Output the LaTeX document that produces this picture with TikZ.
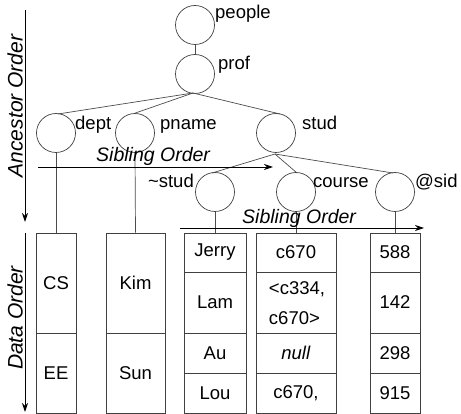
\documentclass[tikz,border=0pt]{standalone}
\usepackage{fontspec}
\setmainfont{Liberation Sans}
\usetikzlibrary{arrows.meta}
\begin{document}
\begin{tikzpicture}[x=1pt,y=-1pt,
  every node/.style={font=\fontsize{18.5}{21}\selectfont, inner sep=0pt},
  elem/.style={draw=black!75, circle, minimum size=39pt, line width=0.7pt},
  lbl/.style={anchor=base west},
  edge/.style={draw=black!70, line width=0.7pt},
  ordarrow/.style={draw=black, line width=0.9pt, -{Stealth[length=9pt,width=6pt]}},
  ordlbl/.style={font=\fontsize{21}{24}\selectfont\itshape},
  sibl/.style={font=\fontsize{19.5}{22}\selectfont\itshape, anchor=base west},
  cell/.style={draw=black!75, line width=0.7pt, rectangle, minimum width=#1, align=left},
]
\useasboundingbox (0,0) rectangle (461,414);

% tree nodes
\node[elem] (people) at (195,25) {};
\node[elem] (prof) at (195,74) {};
\node[elem] (dept) at (56,133) {};
\node[elem] (pname) at (135,133) {};
\node[elem] (stud) at (276,133) {};
\node[elem] (nstud) at (215,192) {};
\node[elem] (course) at (296,192) {};
\node[elem] (sid) at (395,192) {};

\node[lbl] (lpeople) at (215,19) {people};
\node[lbl] (lprof) at (218,70) {prof};
\node[lbl] (ldept) at (75,130) {dept};
\node[lbl] (lpname) at (160,130) {pname};
\node[lbl] (lstud) at (302,130) {stud};
\node[anchor=base east] (lnstud) at (194,188) {\textasciitilde stud};
\node[lbl] (lcourse) at (313,188) {course};
\node[lbl] (lsid) at (415,188) {@sid};

% tree edges
\coordinate (pj) at (193,93);
\coordinate (sj) at (275,154);
\draw[edge] (people.south) -- (prof.north);
\draw[edge] (pj) -- (58,114);
\draw[edge] (pj) -- (pname.north);
\draw[edge] (pj) -- (280,114);
\draw[edge] (sj) -- (212,173);
\draw[edge] (sj) -- (297,173);
\draw[edge] (sj) -- (393,173);

% data cells
\node[cell=40pt, minimum height=100pt] (cs) at (56,283) {CS};
\node[cell=40pt, minimum height=80pt] (ee) at (56,373) {EE};
\node[cell=59pt, minimum height=100pt] (kim) at (135.5,283) {Kim};
\node[cell=59pt, minimum height=80pt] (sun) at (135.5,373) {Sun};

\node[cell=62pt, minimum height=39pt] (jerry) at (215,252.5) {Jerry};
\node[cell=62pt, minimum height=61pt] (lam) at (215,302.5) {Lam};
\node[cell=62pt, minimum height=40pt] (au) at (215,353) {Au};
\node[cell=62pt, minimum height=40pt] (lou) at (215,393) {Lou};

\node[cell=80pt, minimum height=39pt] (c1) at (296,252.5) {c670};
\node[cell=80pt, minimum height=61pt] (c2) at (296,302.5) {};
\node[align=left, font=\fontsize{18.5}{30}\selectfont] (c2t) at (297,303) {<c334,\\c670>};
\node[cell=80pt, minimum height=40pt] (c3) at (296,353) {\textit{null}};
\node[cell=80pt, minimum height=40pt] (c4) at (296,393) {c670,};

\node[cell=50pt, minimum height=39pt] (s1) at (395,252.5) {588};
\node[cell=50pt, minimum height=61pt] (s2) at (395,302.5) {142};
\node[cell=50pt, minimum height=40pt] (s3) at (395,353) {298};
\node[cell=50pt, minimum height=40pt] (s4) at (395,393) {915};

% stems
\draw[edge] (dept.south) -- (cs.north);
\draw[edge] (pname.south) -- (kim.north);
\draw[edge] (nstud.south) -- (jerry.north);
\draw[edge] (course.south) -- (c1.north);
\draw[edge] (sid.south) -- (s1.north);

% order arrows
\coordinate (a1) at (25,10);
\coordinate (a2) at (25,222);
\draw[ordarrow] (a1) -- (a2);
\node[ordlbl, rotate=90] (anc) at (15,106) {Ancestor Order};
\coordinate (d1) at (25,233);
\coordinate (d2) at (25,412);
\draw[ordarrow] (d1) -- (d2);
\node[ordlbl, rotate=90] (dat) at (15,318) {Data Order};

\coordinate (s1a) at (38,167);
\coordinate (s1b) at (273,167);
\draw[ordarrow] (s1a) -- (s1b);
\node[sibl] (sib1) at (96,162) {Sibling Order};
\coordinate (s2a) at (180,228);
\coordinate (s2b) at (424,228);
\draw[ordarrow] (s2a) -- (s2b);
\node[sibl] (sib2) at (242,224) {Sibling Order};
\end{tikzpicture}
\end{document}
